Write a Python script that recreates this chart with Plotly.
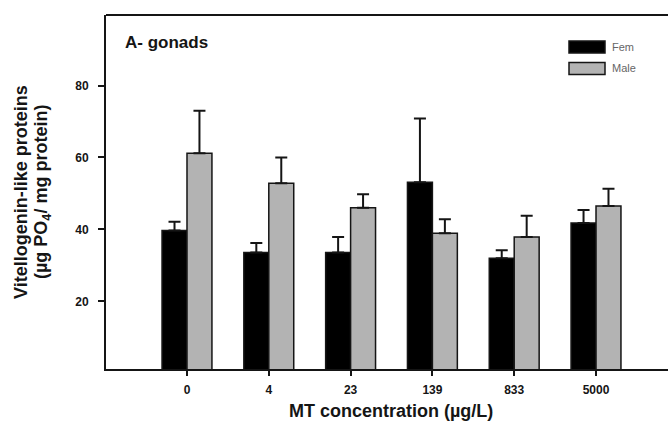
import plotly.graph_objects as go

concentrations = ["0", "4", "23", "139", "833", "5000"]
fem_values = [39.7, 33.6, 33.6, 53.1, 32.0, 41.8]
fem_errors = [2.4, 2.6, 4.3, 17.7, 2.2, 3.6]
male_values = [61.2, 52.8, 46.0, 38.9, 37.9, 46.5]
male_errors = [11.8, 7.2, 3.8, 3.9, 5.9, 4.8]
series_names = ["Fem", "Male"]
y_ticks = [20, 40, 60, 80]

FONT = "Liberation Sans, Arial, sans-serif"
INK = "#151515"
colors = ["#000000", "#b3b3b3"]

W, H = 668, 436
L, R, T, B = 106, 0, 15, 67
PW, PH = W - L - R, H - T - B


def px(x):
    return (x - L) / PW


def py(y):
    return 1 - (y - T) / PH


fig = go.Figure()
for name, vals, errs, col in zip(series_names, [fem_values, male_values],
                                 [fem_errors, male_errors], colors):
    fig.add_trace(go.Bar(
        name=name, x=concentrations, y=vals,
        marker=dict(color=col, line=dict(color=INK, width=1.5)),
        error_y=dict(type="data", array=errs, arrayminus=[0] * len(errs),
                     symmetric=False, color=INK, thickness=2, width=6),
        showlegend=False,
    ))

fig.update_layout(
    width=W, height=H,
    margin=dict(l=L, r=R, t=T, b=B, autoexpand=False),
    paper_bgcolor="white", plot_bgcolor="white",
    barmode="group", bargap=0.39, bargroupgap=0,
    font=dict(family=FONT, color=INK),
    xaxis=dict(type="category", range=[-0.99, 5.88], showline=True,
               linecolor=INK, linewidth=2, ticks="outside", ticklen=5,
               tickwidth=1.5, tickcolor=INK, showgrid=False, zeroline=False,
               automargin=False,
               tickfont=dict(size=12, family=FONT, color=INK, weight="bold"),
               ticklabelstandoff=4),
    yaxis=dict(range=[1.2, 99.6], showline=True, linecolor=INK, linewidth=2,
               ticks="outside", ticklen=6, tickwidth=1.5, tickcolor=INK,
               tickvals=y_ticks, showgrid=False, zeroline=False,
               automargin=False,
               tickfont=dict(size=12, family=FONT, color=INK, weight="bold"),
               ticklabelstandoff=7),
)

# top frame line
fig.add_shape(type="line", xref="paper", yref="paper", x0=0, x1=1, y0=1, y1=1,
              line=dict(color=INK, width=2))

# panel title
fig.add_annotation(text="<b>A- gonads</b>", xref="paper", yref="paper",
                   x=px(123), y=py(42), xanchor="left",
                   yanchor="middle", showarrow=False,
                   font=dict(size=17, family=FONT, color=INK))

# legend drawn manually
legend_y = [47, 68.5]
for name, col, yc in zip(series_names, colors, legend_y):
    fig.add_shape(type="rect", xref="paper", yref="paper",
                  x0=px(569), x1=px(605), y0=py(yc + 6), y1=py(yc - 6),
                  fillcolor=col, line=dict(color=INK, width=1.5))
    fig.add_annotation(text=name, xref="paper", yref="paper",
                       x=px(610), y=py(yc),
                       xanchor="left", yanchor="middle", showarrow=False,
                       font=dict(size=11, family=FONT, color="#666666"))

# axis titles
fig.add_annotation(text="<b>Vitellogenin-like proteins</b>",
                   xref="paper", yref="paper", x=px(21), y=py(192),
                   xanchor="center", yanchor="middle", textangle=-90,
                   showarrow=False, font=dict(size=18, family=FONT, color=INK))
fig.add_annotation(text="<b>(µg PO<sub>4</sub>/ mg protein)</b>",
                   xref="paper", yref="paper", x=px(42), y=py(192),
                   xanchor="center", yanchor="middle", textangle=-90,
                   showarrow=False, font=dict(size=18, family=FONT, color=INK))
fig.add_annotation(text="<b>MT concentration (µg/L)</b>", xref="paper", yref="paper",
                   x=px(391), y=py(411),
                   xanchor="center", yanchor="middle", showarrow=False,
                   font=dict(size=18, family=FONT, color=INK))

fig.write_html(
    "out.html",
    config={"displayModeBar": False},
    post_script="document.body.style.margin='0';document.body.style.overflow='hidden';",
)
